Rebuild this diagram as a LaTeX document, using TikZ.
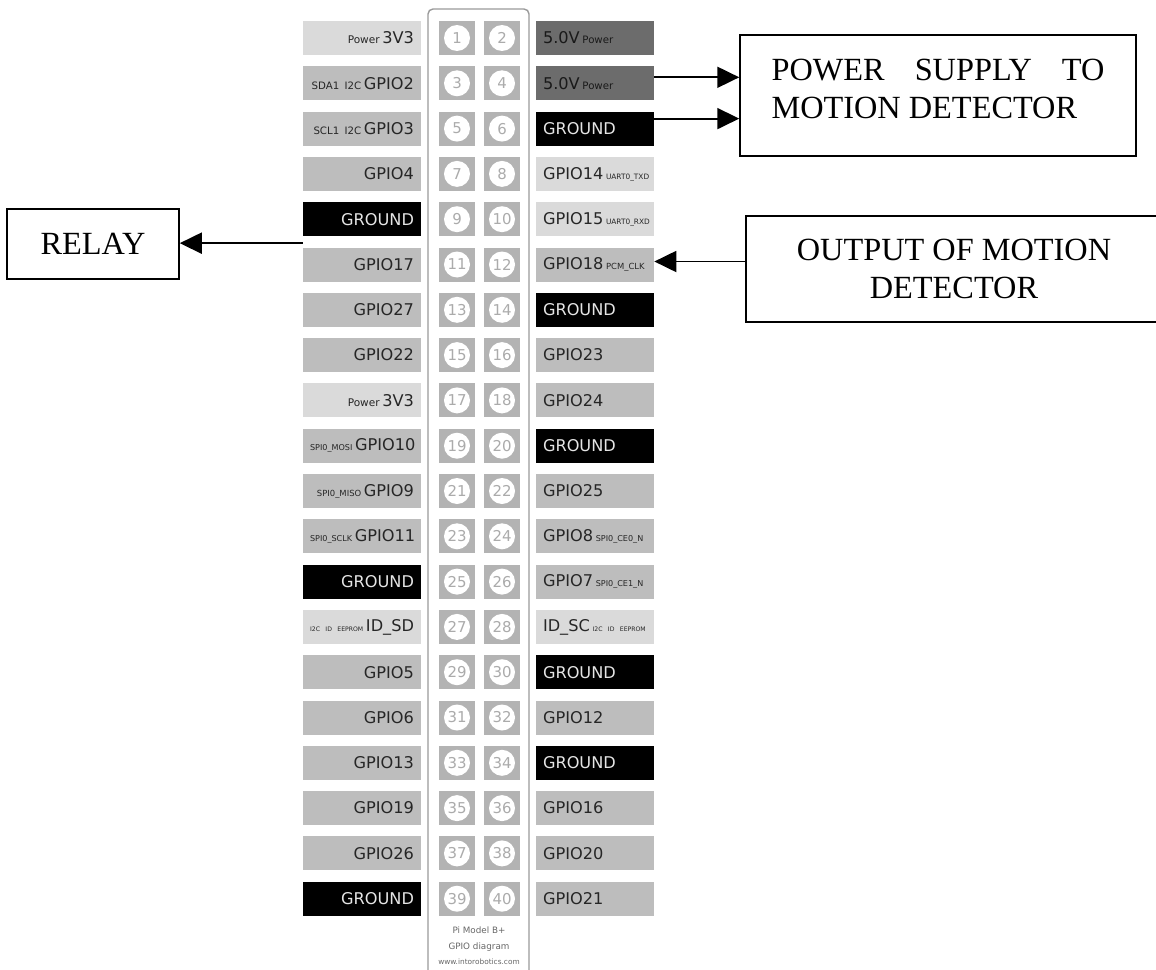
\documentclass[tikz,border=0pt]{standalone}
\usepackage{fontspec}
\setmainfont{Liberation Serif}
\newfontfamily\pinfont{DejaVu Sans}
\usetikzlibrary{arrows.meta,positioning}

\definecolor{pinlight}{HTML}{DADADA}
\definecolor{pinmid}{HTML}{BDBDBD}
\definecolor{pindark}{HTML}{6C6C6C}
\definecolor{pinsq}{HTML}{B3B3B3}
\definecolor{pinnum}{HTML}{ABABAB}
\definecolor{pintext}{HTML}{262626}
\definecolor{framegray}{HTML}{9A9A9A}

\tikzset{
  lblbox/.style={minimum width=2.36cm, minimum height=0.68cm, inner xsep=0.14cm, inner ysep=0,
    text width=2.08cm, font=\pinfont\fontsize{9.2}{11}\selectfont, text=pintext},
  pinlt/.style={fill=pinlight},
  pinmd/.style={fill=pinmid},
  pindk/.style={fill=pindark, text=black!90},
  pingnd/.style={fill=black, text=white!90!black},
  pinsquare/.style={fill=pinsq, minimum width=0.72cm, minimum height=0.68cm, inner sep=0},
  pindot/.style={circle, fill=white, minimum size=0.52cm, inner sep=0, text=pinnum,
    font=\pinfont\fontsize{8.5}{10}\selectfont},
  infobox/.style={draw, line width=0.9pt},
  boxtext/.style={font=\fontsize{18.4}{21.5}\selectfont, inner sep=0},
  arr/.style={line width=1.1pt, -{Triangle[length=0.44cm, width=0.42cm]}},
  smalltag/.style={font=\pinfont\fontsize{5}{6}\selectfont, text=black!60, inner sep=0},
}
% small pin function tags
\newcommand{\tg}[2]{{\fontsize{#1}{#1}\selectfont #2}}

\begin{document}
\begin{tikzpicture}[x=0.02cm, y=-0.02cm]
  \useasboundingbox (0,0) rectangle (1156,970);

  % Header frame
  \draw[framegray, line width=0.8pt, rounded corners=0.1cm] (428,9) rectangle (529,990);

  % Left pin labels
  \foreach \n/\fl/\pre/\lab in {1/pinlt/{\tg{6}{Power}}/3V3, 2/pinmd/{\tg{5.8}{SDA1 I2C}}/GPIO2,
      3/pinmd/{\tg{5.8}{SCL1 I2C}}/GPIO3, 4/pinmd//GPIO4, 5/pingnd//GROUND, 6/pinmd//GPIO17,
      7/pinmd//GPIO27, 8/pinmd//GPIO22, 9/pinlt/{\tg{6}{Power}}/3V3,
      10/pinmd/{\tg{4.6}{SPI0\_MOSI}}/GPIO10, 11/pinmd/{\tg{4.8}{SPI0\_MISO}}/GPIO9,
      12/pinmd/{\tg{4.6}{SPI0\_SCLK}}/GPIO11, 13/pingnd//GROUND,
      14/pinlt/{\tg{3.5}{I2C ID EEPROM}}/ID\_SD, 15/pinmd//GPIO5, 16/pinmd//GPIO6,
      17/pinmd//GPIO13, 18/pinmd//GPIO19, 19/pinmd//GPIO26, 20/pingnd//GROUND} {
    \pgfmathsetmacro{\y}{38+45.3*(\n-1)}
    \node[lblbox, \fl, align=right] (L\n) at (362,\y) {\mbox{\pre\,\lab}};
  }

  % Right pin labels
  \foreach \n/\fl/\lab/\pre in {1/pindk/5.0V/{\tg{5.8}{Power}}, 2/pindk/5.0V/{\tg{5.8}{Power}},
      3/pingnd/GROUND/, 4/pinlt/GPIO14/{\tg{4.2}{UART0\_TXD}}, 5/pinlt/GPIO15/{\tg{4.2}{UART0\_RXD}},
      6/pinmd/GPIO18/{\tg{4.8}{PCM\_CLK}}, 7/pingnd/GROUND/, 8/pinmd/GPIO23/, 9/pinmd/GPIO24/,
      10/pingnd/GROUND/, 11/pinmd/GPIO25/, 12/pinmd/GPIO8/{\tg{4.6}{SPI0\_CE0\_N}},
      13/pinmd/GPIO7/{\tg{4.6}{SPI0\_CE1\_N}}, 14/pinlt/ID\_SC/{\tg{3.5}{I2C ID EEPROM}},
      15/pingnd/GROUND/, 16/pinmd/GPIO12/, 17/pingnd/GROUND/, 18/pinmd/GPIO16/,
      19/pinmd/GPIO20/, 20/pinmd/GPIO21/} {
    \pgfmathsetmacro{\y}{38+45.3*(\n-1)}
    \node[lblbox, \fl, align=left] (R\n) at (595,\y) {\mbox{\lab\,\pre}};
  }

  % Pin header
  \foreach \n in {1,...,20} {
    \pgfmathsetmacro{\y}{38+45.3*(\n-1)}
    \pgfmathtruncatemacro{\a}{2*\n-1}
    \pgfmathtruncatemacro{\b}{2*\n}
    \node[pinsquare] (S\a) at (457,\y) {};
    \node[pindot] (D\a) at (S\a) {\a};
    \node[pinsquare] (S\b) at (502,\y) {};
    \node[pindot] (D\b) at (S\b) {\b};
  }

  % Header caption
  \node[smalltag] (model) at (479,930) {Pi Model B+};
  \node[smalltag] (gpiodiag) at (479,947) {GPIO diagram};
  \node[smalltag, font=\pinfont\fontsize{4.2}{5}\selectfont] (site) at (479,962) {www.intorobotics.com};

  % Blocks
  \node[infobox, minimum width=3.44cm, minimum height=1.4cm, boxtext] (relay) at (93,244) {RELAY};
  \node[infobox, minimum width=7.92cm, minimum height=2.42cm] (psu) at (938,95.5) {};
  \node[boxtext, align=left] (psutext) at (938,89)
    {\hbox to 6.66cm{POWER\hfill SUPPLY\hfill TO}\\MOTION DETECTOR};
  \node[infobox, minimum width=8.32cm, minimum height=2.12cm, boxtext, align=center]
    (outbox) at (954,269) {OUTPUT OF MOTION\\DETECTOR};

  % Connections
  \coordinate (vcc) at ([yshift=0.12cm]R2.east);
  \coordinate (gnd) at ([yshift=0.2cm]R3.east);
  \coordinate (sig) at ([yshift=0.06cm]R6.east);
  \coordinate (ctl) at ([yshift=0.08cm]L6.north west);
  \draw[arr] (vcc) -- (vcc -| psu.west);
  \draw[arr] (gnd) -- (gnd -| psu.west);
  \draw[arr] (sig -| outbox.west) -- (sig);
  \draw[arr] (ctl) -- (ctl -| relay.east);

\end{tikzpicture}
\end{document}
